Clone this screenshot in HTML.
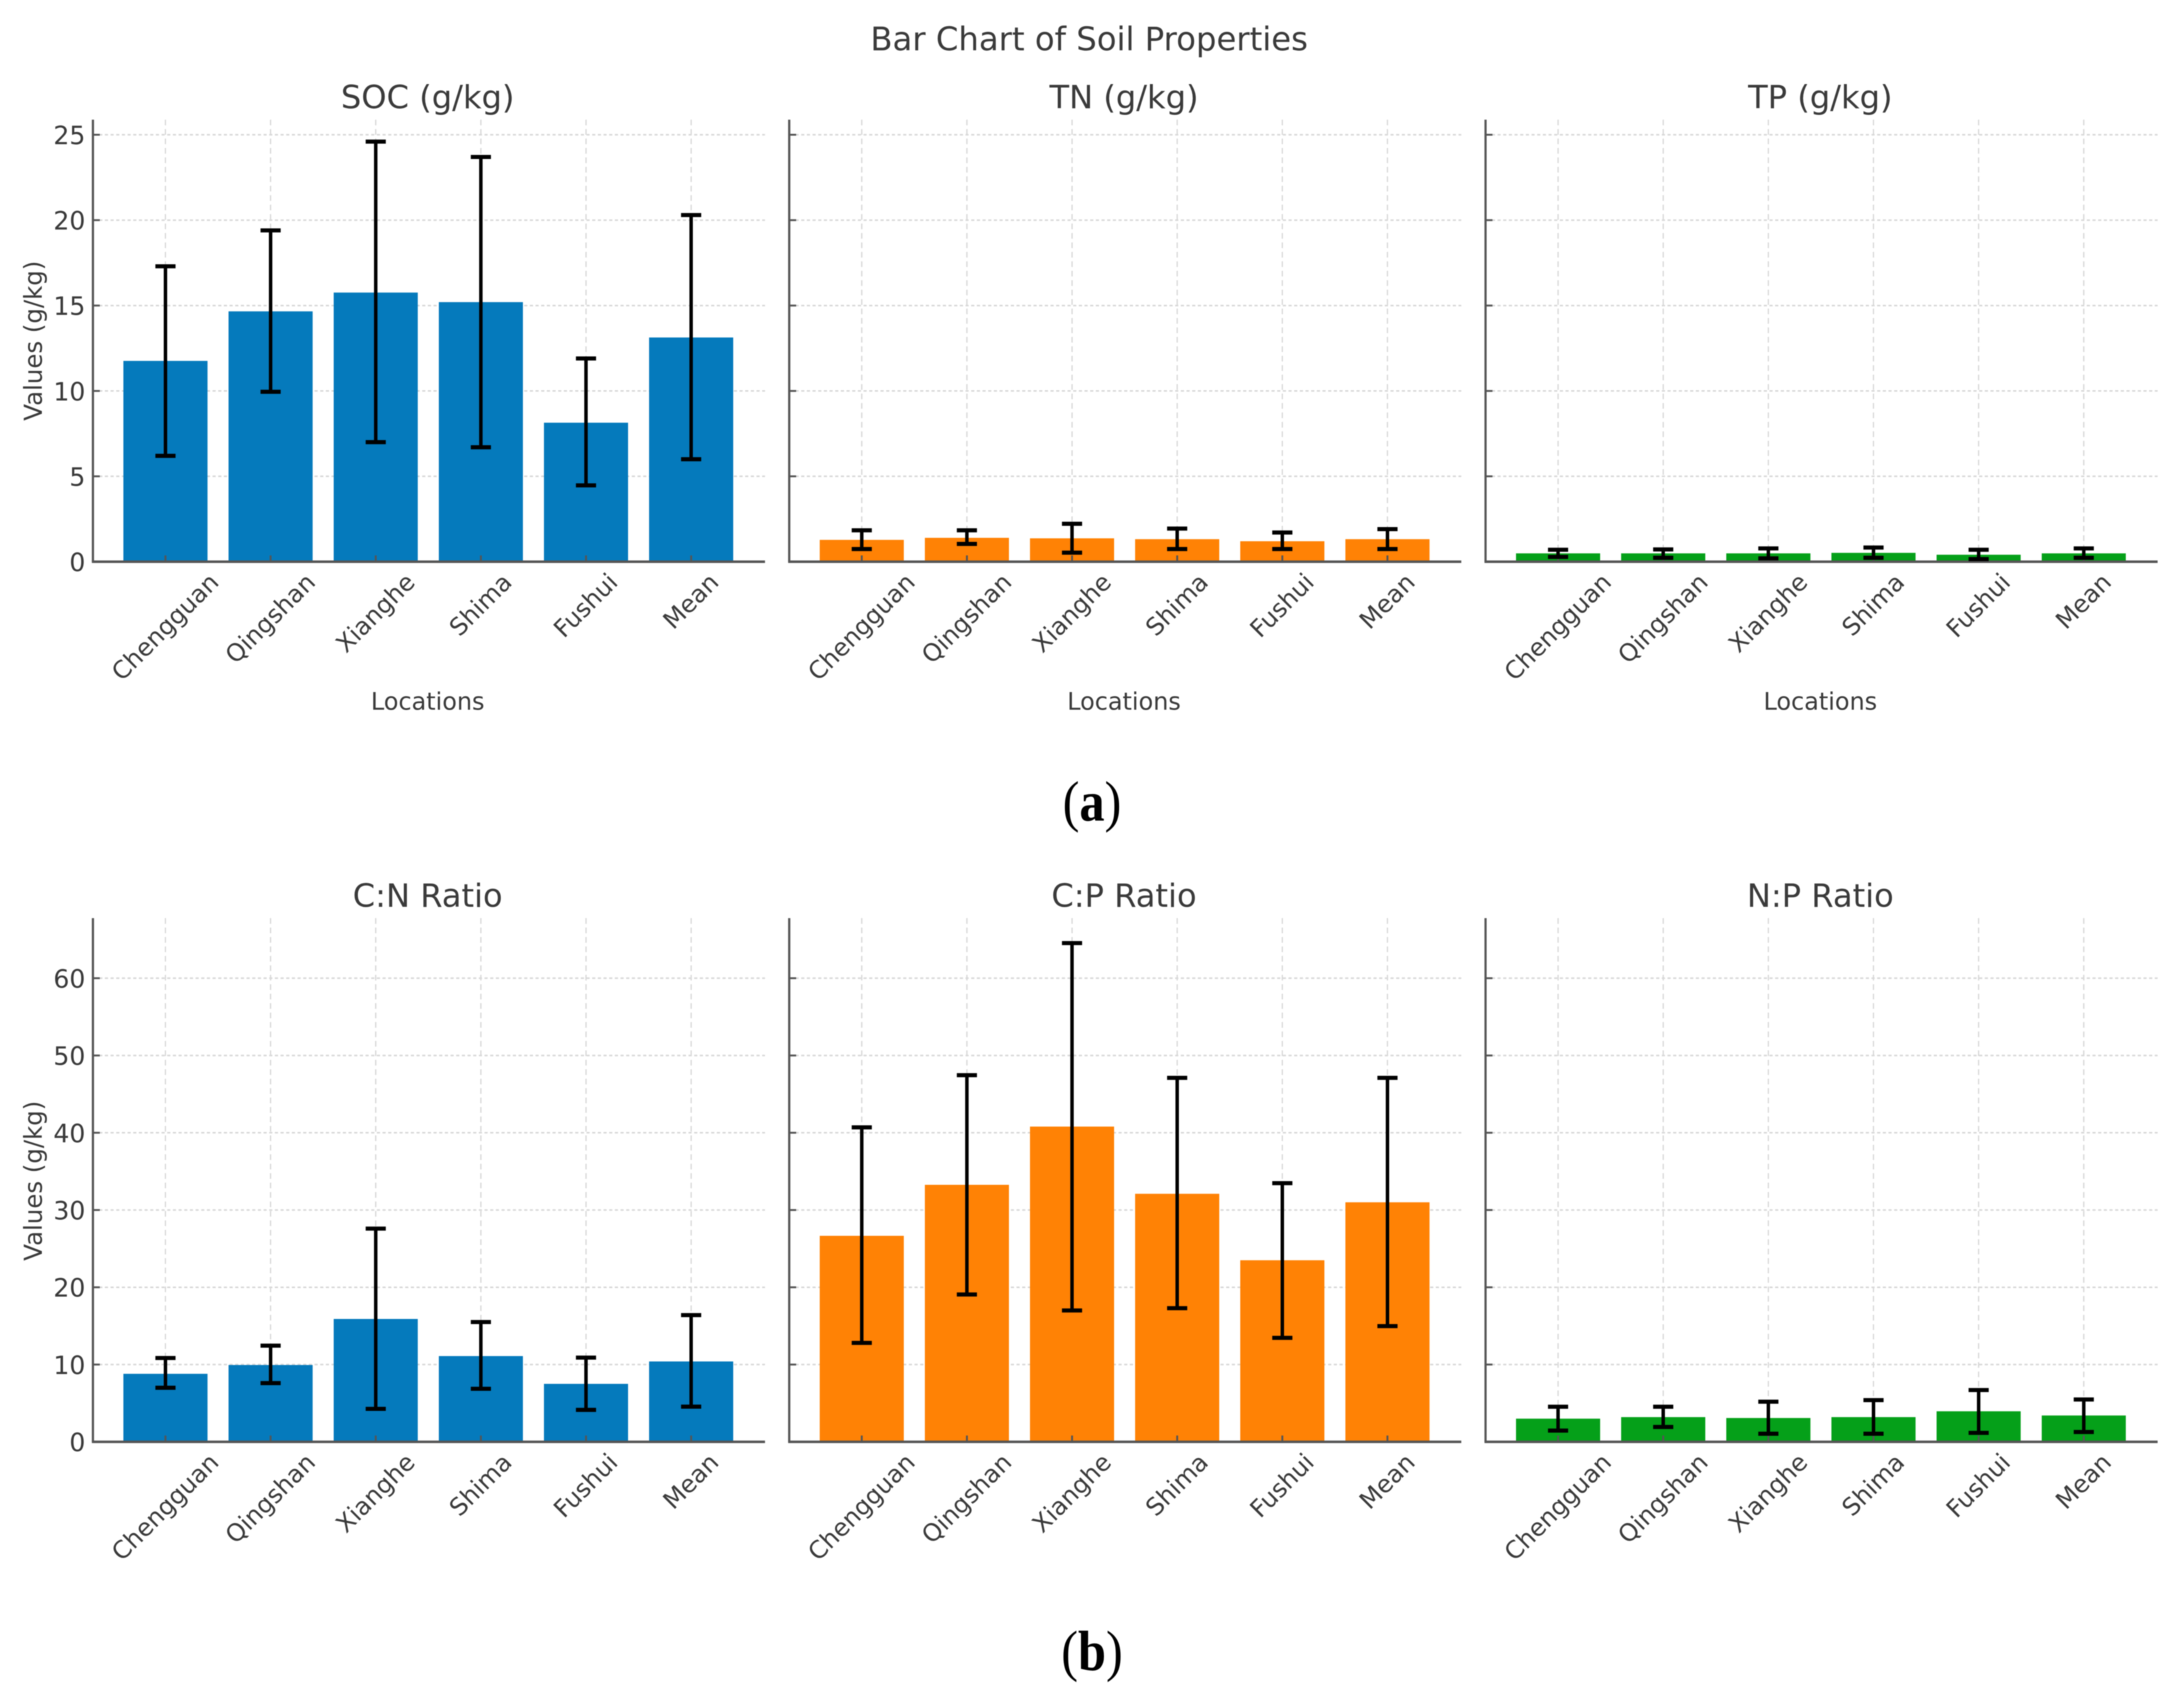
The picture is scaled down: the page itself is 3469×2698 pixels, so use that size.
<!DOCTYPE html>
<html lang="en">
<head>
<meta charset="utf-8">
<title>Bar Chart of Soil Properties</title>
<style>
html,body{margin:0;padding:0;background:#fff;}
svg{display:block;filter:blur(0.8px);}
text{font-family:"DejaVu Sans","Liberation Sans",sans-serif;fill:#3a3a3a;}
.panel-tag{font-family:"Liberation Serif",serif;fill:#000;font-size:80px;}
</style>
</head>
<body>
<svg id="chart" xmlns="http://www.w3.org/2000/svg" width="3469" height="2698" viewBox="0 0 3469 2698">
  <rect x="0" y="0" width="3469" height="2698" fill="#ffffff"/>
  <text x="1730" y="80" text-anchor="middle" font-size="51.3">Bar Chart of Soil Properties</text>
  <text class="panel-tag" x="0" y="0" text-anchor="middle" transform="translate(1734.5 1303) scale(1 1.13)">(<tspan font-weight="bold">a</tspan>)</text>
  <text class="panel-tag" x="0" y="0" text-anchor="middle" transform="translate(1734.5 2652) scale(1 1.13)">(<tspan font-weight="bold">b</tspan>)</text>
</svg>
<script>
const categories = ['Chengguan', 'Qingshan', 'Xianghe', 'Shima', 'Fushui', 'Mean'];

const socValues = [11.76, 14.66, 15.76, 15.2, 8.14, 13.13];
const socLower = [6.2, 9.95, 7.0, 6.7, 4.47, 6.0];
const socUpper = [17.3, 19.4, 24.6, 23.7, 11.9, 20.3];

const tnValues = [1.28, 1.4, 1.37, 1.32, 1.2, 1.32];
const tnLower = [0.74, 1.04, 0.53, 0.74, 0.74, 0.74];
const tnUpper = [1.84, 1.84, 2.22, 1.94, 1.71, 1.91];

const tpValues = [0.49, 0.49, 0.49, 0.52, 0.41, 0.49];
const tpLower = [0.28, 0.23, 0.2, 0.23, 0.15, 0.23];
const tpUpper = [0.7, 0.72, 0.78, 0.83, 0.7, 0.78];

const cnValues = [8.8, 9.94, 15.9, 11.1, 7.5, 10.4];
const cnLower = [7.0, 7.6, 4.27, 6.86, 4.13, 4.55];
const cnUpper = [10.85, 12.45, 27.6, 15.5, 10.9, 16.4];

const cpValues = [26.66, 33.26, 40.8, 32.1, 23.5, 31.0];
const cpLower = [12.8, 19.07, 17.0, 17.3, 13.46, 14.97];
const cpUpper = [40.7, 47.45, 64.55, 47.1, 33.47, 47.1];

const npValues = [3.0, 3.2, 3.08, 3.2, 3.95, 3.41];
const npLower = [1.45, 1.92, 1.05, 1.05, 1.16, 1.27];
const npUpper = [4.54, 4.54, 5.19, 5.4, 6.7, 5.48];

const topTicks = [0, 5, 10, 15, 20, 25];
const bottomTicks = [0, 10, 20, 30, 40, 50, 60];

const panelTitles = ['SOC (g/kg)', 'TN (g/kg)', 'TP (g/kg)', 'C:N Ratio', 'C:P Ratio', 'N:P Ratio'];
const panelValues = [socValues, tnValues, tpValues, cnValues, cpValues, npValues];
const panelLower = [socLower, tnLower, tpLower, cnLower, cpLower, npLower];
const panelUpper = [socUpper, tnUpper, tpUpper, cnUpper, cpUpper, npUpper];
const columnColors = ['#0077bb', '#ff7f00', '#009e14'];

const Y_LABEL = 'Values (g/kg)';
const X_LABEL = 'Locations';

const svg = document.getElementById('chart');
const NS = 'http://www.w3.org/2000/svg';

function panelLeft(col) { return 147.6 + 1106 * col; }
function panelRight(col) { return panelLeft(col) + 1067.5; }
function rowBaseline(row) { return row === 0 ? 892 : 2289.6; }
function rowTop(row) { return row === 0 ? 190 : 1458; }
function rowUnit(row) { return row === 0 ? 27.12 : 12.27; }
function xScale(col, i) { return panelLeft(col) + 115.2 + 167 * i; }
function yScale(row, v) { return rowBaseline(row) - v * rowUnit(row); }

function make(tag, attrs, parent) {
  const node = document.createElementNS(NS, tag);
  for (const key in attrs) node.setAttribute(key, attrs[key]);
  parent.appendChild(node);
  return node;
}

panelTitles.forEach(function (title, p) {
  const col = p % 3;
  const row = Math.floor(p / 3);
  const ticks = row === 0 ? topTicks : bottomTicks;
  const left = panelLeft(col);
  const right = panelRight(col);
  const base = rowBaseline(row);
  const top = rowTop(row);
  const values = panelValues[p];
  const lower = panelLower[p];
  const upper = panelUpper[p];

  const group = make('g', {}, svg);
  
  

  const titleEl = make('text', { x: (left + right) / 2 - 2, y: row === 0 ? 172 : 1440, 'text-anchor': 'middle', 'font-size': 51 }, group);
  titleEl.textContent = title;
  
  

  ticks.forEach(function (t) {
    const y = yScale(row, t);
    if (t !== 0) {
      const gridLine = make('line', { x1: left + 10, x2: right, y1: y, y2: y, stroke: '#d8d8d8', 'stroke-width': 2.5, 'stroke-dasharray': '5 4' }, group);
      
      
    }
  });

  categories.forEach(function (c, i) {
    const x = xScale(col, i);
    const gridLine = make('line', { x1: x, x2: x, y1: top, y2: base, stroke: '#d8d8d8', 'stroke-width': 2, 'stroke-dasharray': '9 6' }, group);
    
    
  });

  categories.forEach(function (c, i) {
    const x = xScale(col, i);
    const y = yScale(row, values[i]);
    const bar = make('rect', { x: x - 66.8, y: y, width: 133.6, height: base - y, fill: columnColors[col], 'fill-opacity': 0.98 }, group);
    
    
  });

  const leftSpine = make('line', { x1: left, x2: left, y1: top, y2: base, stroke: '#555555', 'stroke-width': 3.5 }, group);
  
  

  const bottomSpine = make('line', { x1: left - 1.7, x2: right, y1: base, y2: base, stroke: '#555555', 'stroke-width': 4 }, group);
  
  

  ticks.forEach(function (t) {
    const y = yScale(row, t);
    const tick = make('line', { x1: left, x2: left + 11, y1: y, y2: y, stroke: '#555555', 'stroke-width': 3 }, group);
    
    
    if (col === 0) {
      const label = make('text', { x: left - 12, y: y + 15, 'text-anchor': 'end', 'font-size': 40 }, group);
      label.textContent = String(t);
      
      
    }
  });

  categories.forEach(function (c, i) {
    const x = xScale(col, i);
    const tick = make('line', { x1: x, x2: x, y1: base - 10, y2: base, stroke: '#555555', 'stroke-width': 3 }, group);
    
    

    const label = make('text', { 'text-anchor': 'middle', 'dominant-baseline': 'central', 'font-size': 38.5 }, group);
    label.textContent = c;
    
    
    const half = (label.getComputedTextLength() + 37) * 0.7071 / 2;
    const cy = base + 13 + half;
    label.setAttribute('x', x);
    label.setAttribute('y', cy);
    label.setAttribute('transform', 'rotate(-45 ' + x + ' ' + cy + ')');
  });

  categories.forEach(function (c, i) {
    const x = xScale(col, i);
    const yHigh = yScale(row, upper[i]);
    const yLow = yScale(row, lower[i]);
    const stem = make('line', { x1: x, x2: x, y1: yHigh, y2: yLow, stroke: '#000000', 'stroke-width': 5.5 }, group);
    
    
    const capTop = make('line', { x1: x - 16, x2: x + 16, y1: yHigh, y2: yHigh, stroke: '#000000', 'stroke-width': 6.5 }, group);
    
    
    const capBottom = make('line', { x1: x - 16, x2: x + 16, y1: yLow, y2: yLow, stroke: '#000000', 'stroke-width': 6.5 }, group);
    
    
  });

  if (row === 0) {
    const xTitle = make('text', { x: (left + right) / 2 - 2, y: 1127, 'text-anchor': 'middle', 'font-size': 38 }, group);
    xTitle.textContent = X_LABEL;
    
    
  }
  if (col === 0) {
    const cy = row === 0 ? 541 : 1875;
    const yTitle = make('text', { x: 54, y: cy, 'text-anchor': 'middle', 'dominant-baseline': 'central', 'font-size': 38.8, transform: 'rotate(-90 54 ' + cy + ')' }, group);
    yTitle.textContent = Y_LABEL;
    
    
  }
});
</script>
</body>
</html>
